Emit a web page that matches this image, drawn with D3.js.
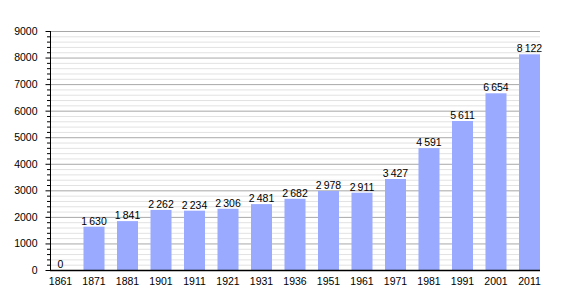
<html>
<head>
  <script src="https://d3js.org/d3.v7.min.js"></script>
  <style>
    body { margin: 0; background: #fff; }
    svg text { font-family: "Liberation Sans", Arial, sans-serif; fill: #000; }
  </style>
</head>
<body>
  <svg id="chart"></svg>

  <script>
    const years = ['1861', '1871', '1881', '1901', '1911', '1921', '1931', '1936', '1951', '1961', '1971', '1981', '1991', '2001', '2011'];
    const population = [0, 1630, 1841, 2262, 2234, 2306, 2481, 2682, 2978, 2911, 3427, 4591, 5611, 6654, 8122];
    const yTicks = [0, 1000, 2000, 3000, 4000, 5000, 6000, 7000, 8000, 9000];

    const width = 570;
    const height = 300;
    const plotL = 50, plotR = 540, plotT = 31, plotB = 270;

    const svg = d3.select('#chart')
      .attr('width', width)
      .attr('height', height);

    const x = d3.scaleBand()
      .domain(years)
      .range([plotL, plotR])
      .paddingInner(0.373)
      .paddingOuter(0);

    const y = d3.scaleLinear()
      .domain([0, 9000])
      .range([plotB, plotT]);

    const minor = d3.range(0, 9001, 200).filter(v => v % 1000 !== 0);

    // minor grid
    svg.append('g')
      .selectAll('line')
      .data(minor)
      .enter().append('line')
      .attr('x1', plotL).attr('x2', plotR)
      .attr('y1', d => y(d) + 0.5).attr('y2', d => y(d) + 0.5)
      .attr('stroke', '#e2e2e2');

    // major grid
    svg.append('g')
      .selectAll('line')
      .data(yTicks.slice(1))
      .enter().append('line')
      .attr('x1', plotL).attr('x2', plotR)
      .attr('y1', d => y(d) + 0.5).attr('y2', d => y(d) + 0.5)
      .attr('stroke', '#a8a8a8');

    // bars
    svg.append('g')
      .selectAll('rect')
      .data(population)
      .enter().append('rect')
      .attr('x', (d, i) => x(years[i]))
      .attr('y', d => y(d))
      .attr('width', x.bandwidth())
      .attr('height', d => y(0) - y(d))
      .attr('fill', '#99aaff');

    // value labels
    const fmt = v => d3.format(',')(v).replace(/,/g, '\u202f');
    svg.append('g')
      .selectAll('text')
      .data(population)
      .enter().append('text')
      .attr('x', (d, i) => x(years[i]) + x.bandwidth() / 2)
      .attr('y', d => y(d) - 2)
      .attr('text-anchor', 'middle')
      .style('font-size', '10.5px')
      .text(d => fmt(d));

    // y axis
    const yAxis = svg.append('g')
      .attr('transform', `translate(${plotL + 0.5},0)`)
      .call(d3.axisLeft(y).tickValues(yTicks).tickSize(5).tickPadding(8).tickFormat(d3.format('d')));
    yAxis.selectAll('.tick text').style('font-size', '10.5px');
    yAxis.select('.domain').attr('d', `M0,${plotT}V${plotB}`).attr('stroke', '#000');
    yAxis.selectAll('.tick line').attr('stroke', '#000');

    svg.append('g')
      .selectAll('line')
      .data(minor)
      .enter().append('line')
      .attr('x1', plotL - 3).attr('x2', plotL)
      .attr('y1', d => y(d) + 0.5).attr('y2', d => y(d) + 0.5)
      .attr('stroke', '#000');

    // x axis
    const xAxis = svg.append('g')
      .attr('transform', `translate(0,${plotB + 0.5})`)
      .call(d3.axisBottom(x).tickSize(0).tickPadding(7));
    xAxis.selectAll('.tick text').style('font-size', '10.5px');
    xAxis.select('.domain').attr('d', `M${plotL},0H${plotR}`).attr('stroke', '#000').attr('stroke-width', 1.5);
  </script>
</body>
</html>
